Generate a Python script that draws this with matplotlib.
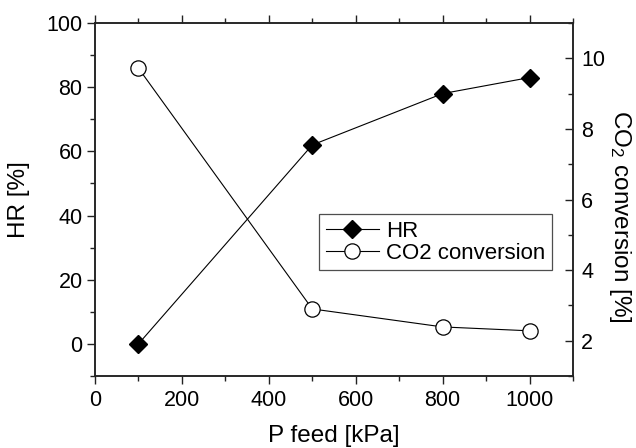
import matplotlib
matplotlib.use("Agg")
import matplotlib.pyplot as plt
from matplotlib.ticker import MultipleLocator

plt.rcParams['font.family'] = ['Liberation Sans', 'DejaVu Sans']
plt.rcParams['mathtext.fontset'] = 'custom'
plt.rcParams['mathtext.rm'] = 'Liberation Sans'
plt.rcParams['mathtext.it'] = 'Liberation Sans'

# Feed pressure [kPa]
p_feed = [100, 500, 800, 1000]
# Hydrogen recovery [%]
hr = [0, 62, 78, 83]
# CO2 conversion [%]
co2_conv = [9.72, 2.9, 2.39, 2.28]

TICK_FS = 15.5
LABEL_FS = 17.5
LEGEND_FS = 16

fig = plt.figure(figsize=(6.36, 4.48), dpi=100)
ax = fig.add_axes([95 / 636, 1 - 376 / 448, (573 - 95) / 636, (376 - 23) / 448])
ax2 = ax.twinx()

l1, = ax.plot(p_feed, hr, color='black', lw=0.8, marker='D', ms=9,
              markerfacecolor='black', markeredgecolor='black', label='HR',
              zorder=3)
l2, = ax2.plot(p_feed, co2_conv, color='black', lw=0.8, marker='o', ms=11,
               markerfacecolor='white', markeredgecolor='black', mew=0.9,
               label='CO2 conversion', zorder=3)

ax.set_xlim(0, 1100)
ax.set_ylim(-10, 100)
ax2.set_ylim(1, 11)

ax.xaxis.set_major_locator(MultipleLocator(200))
ax.xaxis.set_minor_locator(MultipleLocator(100))
ax.yaxis.set_major_locator(MultipleLocator(20))
ax.yaxis.set_minor_locator(MultipleLocator(10))
ax2.yaxis.set_major_locator(MultipleLocator(2))
ax2.yaxis.set_minor_locator(MultipleLocator(1))

ax.tick_params(axis='x', which='both', direction='out', top=True,
               labelsize=TICK_FS, width=1, color='#222222', pad=4)
ax.tick_params(axis='x', which='major', length=6)
ax.tick_params(axis='x', which='minor', length=3.5)
ax.tick_params(axis='y', which='both', direction='out', labelsize=TICK_FS,
               width=1, color='#222222', pad=3)
ax.tick_params(axis='y', which='major', length=6)
ax.tick_params(axis='y', which='minor', length=3.5)
ax2.tick_params(axis='y', which='both', direction='in', labelsize=TICK_FS,
                width=1, color='#222222', pad=6)
ax2.tick_params(axis='y', which='major', length=6)
ax2.tick_params(axis='y', which='minor', length=3.5)

for a in (ax, ax2):
    for s in a.spines.values():
        s.set_linewidth(1.1)
        s.set_color('#222222')

ax.set_xlabel('P feed [kPa]', fontsize=LABEL_FS, labelpad=10)
ax.set_ylabel('HR [%]', fontsize=LABEL_FS, labelpad=12)
ax2.set_ylabel(r'CO$_{2}$ conversion [%]', fontsize=LABEL_FS, rotation=270,
               va='center', ha='center')
ax2.yaxis.set_label_coords(1.098, 0.453)

leg = ax.legend(handles=[l1, l2], loc='upper left',
                bbox_to_anchor=((319 - 95) / 478, 1 - (214 - 23) / 353),
                fontsize=LEGEND_FS, frameon=True, fancybox=False,
                edgecolor='#222222', borderpad=0.3, handlelength=2.4,
                handletextpad=0.3, labelspacing=0.05, borderaxespad=0)
leg.get_frame().set_linewidth(0.9)

fig.savefig('out.png', dpi=100)
